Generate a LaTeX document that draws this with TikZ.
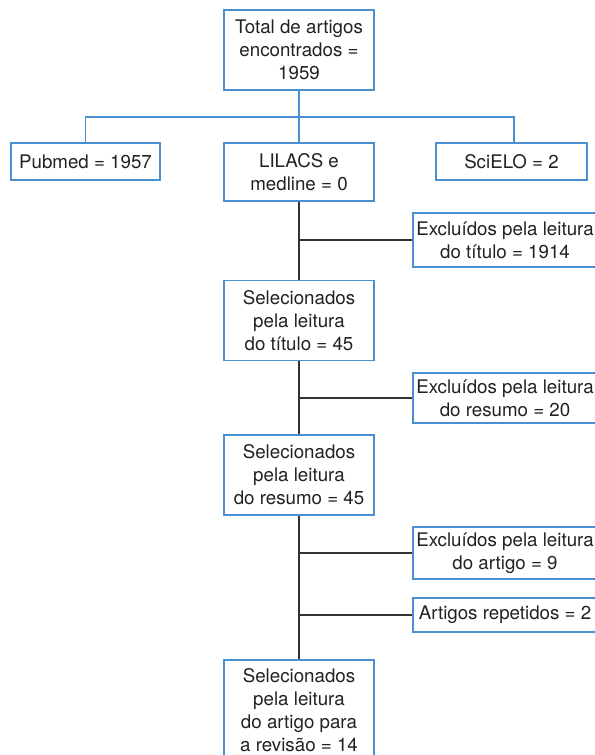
\documentclass[tikz,border=0pt]{standalone}
\usepackage{fontspec}
\setmainfont{TeX Gyre Heros}
\usetikzlibrary{positioning}
\definecolor{boxblue}{RGB}{74,144,208}
\definecolor{textgray}{RGB}{34,34,34}
\definecolor{linegray}{RGB}{51,51,51}

\begin{document}
\begin{tikzpicture}[x=1bp, y=-1bp,
	box/.style={draw=boxblue, line width=1.4bp, fill=white, inner sep=0pt, align=center, text=textgray, font=\fontsize{18.8}{23}\selectfont},
	blueline/.style={draw=boxblue, line width=1.4bp},
	greyline/.style={draw=linegray, line width=1.6bp}]
	\useasboundingbox[fill=white] (0,0) rectangle (595,755);
	\node[box, minimum width=150bp, minimum height=80bp] (total) at (299,50) {Total de artigos\\encontrados =\\1959};
	\node[box, minimum width=149bp, minimum height=37bp] (pubmed) at (85.5,161.5) {Pubmed = 1957};
	\node[box, minimum width=150bp, minimum height=58bp] (lilacs) at (299,172) {LILACS e\\medline = 0};
	\node[box, minimum width=151bp, minimum height=37bp] (scielo) at (511.5,161.5) {SciELO = 2};
	\node[box, minimum width=184bp, minimum height=54bp] (exclTitulo) at (505,240) {Excluídos pela leitura\\do título = 1914};
	\node[box, minimum width=150bp, minimum height=80bp] (selTitulo) at (299,320.5) {Selecionados\\pela leitura\\do título = 45};
	\node[box, minimum width=184bp, minimum height=50bp] (exclResumo) at (505,398) {Excluídos pela leitura\\do resumo = 20};
	\node[box, minimum width=150bp, minimum height=80bp] (selResumo) at (299,475) {Selecionados\\pela leitura\\do resumo = 45};
	\node[box, minimum width=184bp, minimum height=52bp] (exclArtigo) at (505,553) {Excluídos pela leitura\\do artigo = 9};
	\node[box, minimum width=184bp, minimum height=34bp] (repetidos) at (505,615) {Artigos repetidos = 2};
	\node[box, minimum width=150bp, minimum height=100bp] (selArtigo) at (299,710) {Selecionados\\pela leitura\\do artigo para\\a revisão = 14};
	\coordinate (split) at (299,117);
	\draw[blueline] (total.south) -- (lilacs.north);
	\draw[blueline] (pubmed.north) |- (split) -| ([xshift=2.5bp]scielo.north);
	\draw[greyline] (lilacs.south) -- (selTitulo.north);
	\draw[greyline] (selTitulo.south) -- (selResumo.north);
	\draw[greyline] (selResumo.south) -- (selArtigo.north);
	\draw[greyline] (exclTitulo.west) -- (exclTitulo.west -| lilacs.south);
	\draw[greyline] (exclResumo.west) -- (exclResumo.west -| selTitulo.south);
	\draw[greyline] (exclArtigo.west) -- (exclArtigo.west -| selResumo.south);
	\draw[greyline] (repetidos.west) -- (repetidos.west -| selResumo.south);
\end{tikzpicture}
\end{document}
